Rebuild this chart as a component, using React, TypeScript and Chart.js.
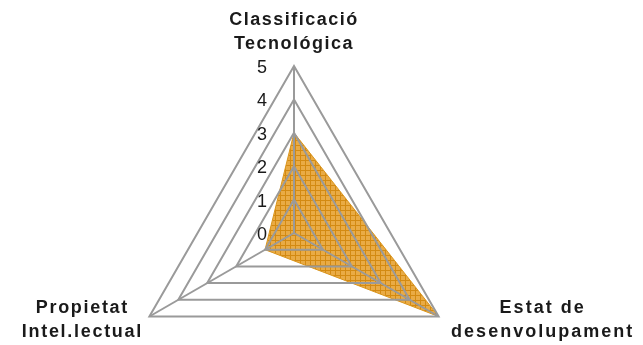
import React, { useEffect, useRef } from "react";
import { Chart, registerables } from "chart.js";

Chart.register(...registerables);

const categories: string[][] = [
  ["Classificació", "Tecnológica"],
  ["Estat de", "desenvolupament"],
  ["Propietat", "Intel.lectual"],
];
const seriesValues: number[] = [3, 5, 1];
const tickValues: number[] = [0, 1, 2, 3, 4, 5];

function makePattern(): CanvasPattern | string {
  const c = document.createElement("canvas");
  c.width = 5;
  c.height = 5;
  const g = c.getContext("2d");
  if (!g) return "#E6A43A";
  g.fillStyle = "#E9AB45";
  g.fillRect(0, 0, 5, 5);
  g.fillStyle = "#D38A12";
  g.fillRect(0, 0, 5, 1);
  g.fillRect(0, 0, 1, 5);
  const p = g.createPattern(c, "repeat");
  return p || "#E6A43A";
}

const labelPlugin = {
  id: "customLabels",
  afterDraw(chart: any) {
    const scale = chart.scales.r;
    const ctx = chart.ctx as CanvasRenderingContext2D;
    const cx = scale.xCenter;
    const cy = scale.yCenter;
    ctx.save();
    // tick labels
    ctx.font = "18px 'Liberation Sans', Arial, sans-serif";
    ctx.fillStyle = "#1a1a1a";
    ctx.textAlign = "center";
    ctx.textBaseline = "middle";
    tickValues.forEach((v) => {
      const d = scale.getDistanceFromCenterForValue(v);
      ctx.fillText(String(v), cx - 32, cy - d + 2);
    });
    // point labels
    ctx.font = "bold 18px 'Liberation Sans', Arial, sans-serif";
    ctx.fillStyle = "#1a1a1a";
    const offsets = [
      { dx: 0, dy: -46, ls: "1.5px" },
      { dx: 104, dy: -8, ls: "2px" },
      { dx: -67, dy: -8, ls: "1.7px" },
    ];
    categories.forEach((lines, i) => {
      const p = scale.getPointPosition(i, scale.drawingArea);
      const o = offsets[i];
      (ctx as any).letterSpacing = o.ls;
      lines.forEach((line, j) => {
        ctx.fillText(line, p.x + o.dx, p.y + o.dy + j * 24);
      });
    });
    ctx.restore();
  },
};

export default function App() {
  const ref = useRef<HTMLCanvasElement | null>(null);
  useEffect(() => {
    if (!ref.current) return;
    const chart = new Chart(ref.current, {
      type: "radar",
      data: {
        labels: categories.map((l) => l.join(" ")),
        datasets: [
          {
            data: seriesValues,
            backgroundColor: makePattern() as any,
            borderColor: "#D9951E",
            borderWidth: 1,
            pointRadius: 0,
            fill: true,
          },
        ],
      },
      options: {
        animation: false,
        responsive: false,
        devicePixelRatio: 1,
        layout: { padding: { left: 127, right: 182, top: 66, bottom: 20 } },
        plugins: {
          legend: { display: false },
          tooltip: { enabled: false },
        },
        scales: {
          r: {
            min: 0,
            max: 5,
            ticks: { display: false, stepSize: 1 },
            pointLabels: { display: false },
            grid: { color: "#9a9a9a", lineWidth: 2, z: 1 } as any,
            angleLines: { color: "#9a9a9a", lineWidth: 2 },
          },
        },
      },
      plugins: [labelPlugin],
    });
    return () => chart.destroy();
  }, []);
  return (
    <div
      style={{
        position: "fixed",
        left: 0,
        top: 0,
        width: 643,
        height: 345,
        overflow: "hidden",
        background: "#fff",
      }}
    >
      <canvas ref={ref} width={643} height={420} style={{ display: "block" }} />
    </div>
  );
}
